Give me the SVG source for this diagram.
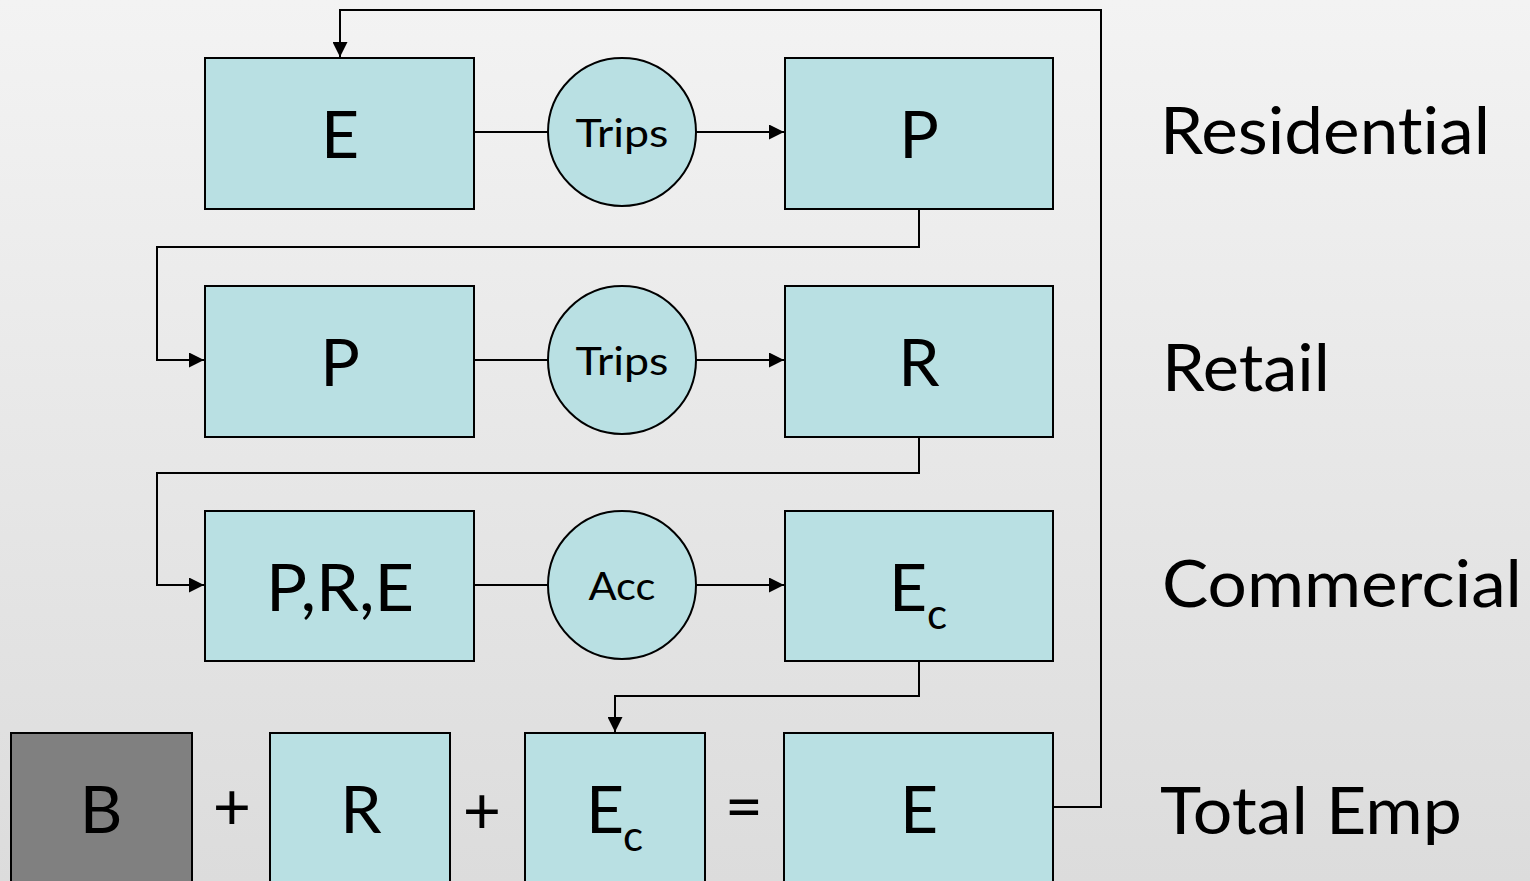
<svg xmlns="http://www.w3.org/2000/svg" width="1530" height="881" viewBox="0 0 1530 881">
<defs>
<linearGradient id="bg" x1="0" y1="0" x2="0" y2="1">
<stop offset="0" stop-color="#f3f3f3"/>
<stop offset="1" stop-color="#dcdcdc"/>
</linearGradient>
<marker id="arr" viewBox="0 0 10 10" refX="10" refY="5" markerWidth="15" markerHeight="15" markerUnits="userSpaceOnUse" orient="auto">
<path d="M0,0 L10,5 L0,10 z" fill="#000"/>
</marker>
<style>
text{font-variant-ligatures:none;font-feature-settings:"liga" 0,"dlig" 0,"clig" 0}
.box{fill:#b9e0e3;stroke:#000;stroke-width:2}
.gray{fill:#808080;stroke:#000;stroke-width:2}
.circ{fill:#b9e0e3;stroke:#000;stroke-width:2}
.big{font-family:Lato,"Open Sans",sans-serif;font-size:66px;fill:#000;text-anchor:middle}
.small{font-family:Lato,"Open Sans",sans-serif;font-size:38px;fill:#000;text-anchor:middle}
.sub{font-family:Lato,"Open Sans",sans-serif;font-size:42px;fill:#000}
.lab{font-family:Lato,"Open Sans",sans-serif;font-size:66px;fill:#000}
.ln{fill:none;stroke:#000;stroke-width:2}
</style>
</defs>
<rect x="0" y="0" width="1530" height="881" fill="url(#bg)"/>
<g id="connectors">
<path class="ln" d="M1053,807 H1101 V10 H340 V57" marker-end="url(#arr)"/>
<path class="ln" d="M919,209 V247 H157 V360 H204" marker-end="url(#arr)"/>
<path class="ln" d="M919,437 V473 H157 V585 H204" marker-end="url(#arr)"/>
<path class="ln" d="M919,661 V696 H615 V732" marker-end="url(#arr)"/>
<path class="ln" d="M474,132 H548"/>
<path class="ln" d="M696,132 H784" marker-end="url(#arr)"/>
<path class="ln" d="M474,360 H548"/>
<path class="ln" d="M696,360 H784" marker-end="url(#arr)"/>
<path class="ln" d="M474,585 H548"/>
<path class="ln" d="M696,585 H784" marker-end="url(#arr)"/>
</g>
<g id="res-E"><rect class="box" x="205" y="58" width="269" height="151"/><text class="big" x="340" y="158">E</text></g>
<g id="res-trips"><circle class="circ" cx="622" cy="132" r="74"/><text class="small" x="622" y="147" textLength="93" lengthAdjust="spacingAndGlyphs">Trips</text></g>
<g id="res-P"><rect class="box" x="785" y="58" width="268" height="151"/><text class="big" x="919" y="158">P</text></g>
<g id="ret-P"><rect class="box" x="205" y="286" width="269" height="151"/><text class="big" x="340" y="386">P</text></g>
<g id="ret-trips"><circle class="circ" cx="622" cy="360" r="74"/><text class="small" x="622" y="375" textLength="93" lengthAdjust="spacingAndGlyphs">Trips</text></g>
<g id="ret-R"><rect class="box" x="785" y="286" width="268" height="151"/><text class="big" x="919" y="386">R</text></g>
<g id="com-PRE"><rect class="box" x="205" y="511" width="269" height="150"/><text class="big" x="340" y="611" textLength="148" lengthAdjust="spacingAndGlyphs">P,R,E</text></g>
<g id="com-acc"><circle class="circ" cx="622" cy="585" r="74"/><text class="small" x="622" y="600" textLength="67" lengthAdjust="spacingAndGlyphs">Acc</text></g>
<g id="com-Ec"><rect class="box" x="785" y="511" width="268" height="150"/><text class="big" x="908" y="611">E</text><text class="sub" x="927" y="629">c</text></g>
<g id="tot-B"><rect class="gray" x="11" y="733" width="181" height="160"/><text class="big" x="101" y="833">B</text></g>
<text class="big" x="232" y="830">+</text>
<g id="tot-R"><rect class="box" x="270" y="733" width="180" height="160"/><text class="big" x="361" y="833">R</text></g>
<text class="big" x="482" y="834">+</text>
<g id="tot-Ec"><rect class="box" x="525" y="733" width="180" height="160"/><text class="big" x="605" y="833">E</text><text class="sub" x="623" y="851">c</text></g>
<text class="big" x="744" y="830">=</text>
<g id="tot-E"><rect class="box" x="784" y="733" width="269" height="160"/><text class="big" x="919" y="833">E</text></g>
<g id="labels">
<text class="lab" x="1160" y="154" textLength="330" lengthAdjust="spacingAndGlyphs">Residential</text>
<text class="lab" x="1162" y="391" textLength="168" lengthAdjust="spacingAndGlyphs">Retail</text>
<text class="lab" x="1162" y="607" textLength="360" lengthAdjust="spacingAndGlyphs">Commercial</text>
<text class="lab" x="1160" y="834" textLength="302" lengthAdjust="spacingAndGlyphs">Total Emp</text>
</g>
</svg>
